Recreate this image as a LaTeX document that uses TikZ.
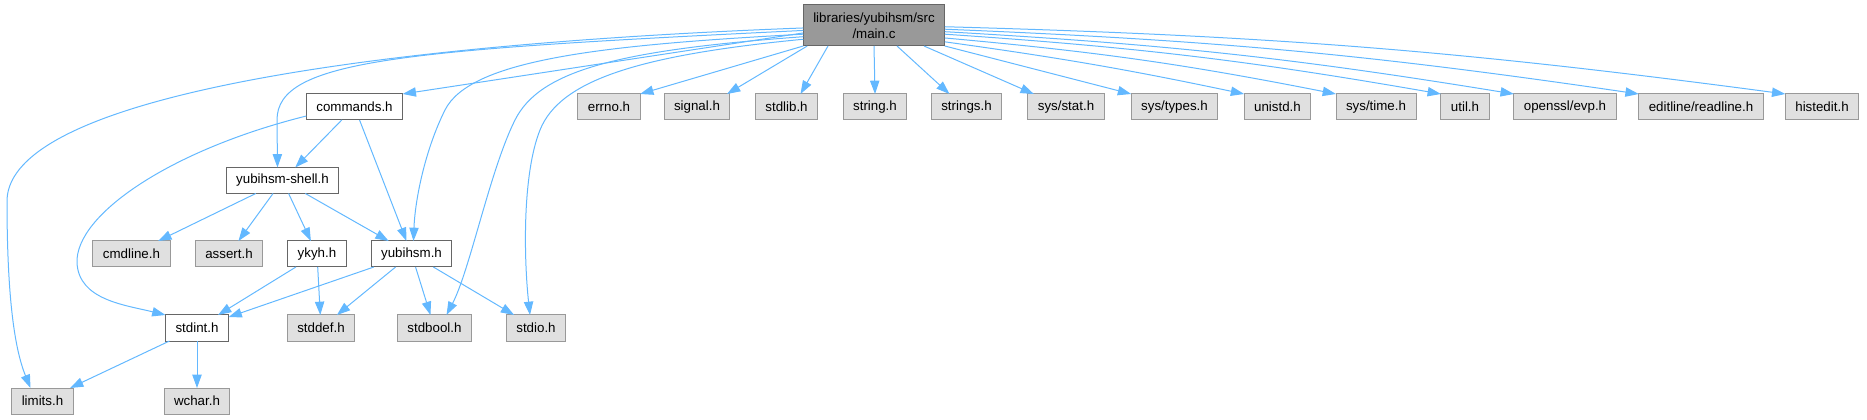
\documentclass[tikz,border=0pt]{standalone}
\usepackage{fontspec}
\setmainfont{Liberation Sans}
\usepackage{tikz}
\usetikzlibrary{calc,arrows.meta}

\definecolor{edgeblue}{HTML}{63B8FF}
\definecolor{sysfill}{HTML}{E0E0E0}
\definecolor{sysline}{HTML}{999999}
\definecolor{hdrline}{HTML}{666666}
\definecolor{mainfill}{HTML}{999999}

\begin{document}
\begin{tikzpicture}[
  x=0.75pt, y=-0.75pt,
  file/.style={draw=hdrline, fill=white, line width=0.75pt, minimum height=19.5pt,
    inner xsep=7.5pt, inner ysep=0pt, outer sep=0pt},
  sysfile/.style={file, draw=sysline, fill=sysfill},
  mainfile/.style={file, fill=mainfill, minimum height=30.75pt, align=center},
  dep/.style={draw=edgeblue, line width=0.75pt, -{Triangle[length=10pt,width=7pt]}}
]
  \useasboundingbox (0,0) rectangle (1867,420);

  % Files
  \node[mainfile] (main) at (874,25.5) {libraries/yubihsm/src\\/main.c};

  \node[file]    (commands) at (354.5,107) {commands.h};
  \node[sysfile] (errno)    at (609,107)   {errno.h};
  \node[sysfile] (signal)   at (697,107)   {signal.h};
  \node[sysfile] (stdlib)   at (786.5,107) {stdlib.h};
  \node[sysfile] (string)   at (875,107)   {string.h};
  \node[sysfile] (strings)  at (966.5,107) {strings.h};
  \node[sysfile] (sysstat)  at (1066,107)  {sys/stat.h};
  \node[sysfile] (systypes) at (1174.5,107) {sys/types.h};
  \node[sysfile] (unistd)   at (1277.5,107) {unistd.h};
  \node[sysfile] (systime)  at (1376,107)  {sys/time.h};
  \node[sysfile] (util)     at (1465,107)  {util.h};
  \node[sysfile] (evp)      at (1565,107)  {openssl/evp.h};
  \node[sysfile] (readline) at (1701,107)  {editline/readline.h};
  \node[sysfile] (histedit) at (1822,107)  {histedit.h};

  \node[file]    (shell)    at (282.5,180.5) {yubihsm-shell.h};

  \node[sysfile] (cmdline)  at (131.5,254) {cmdline.h};
  \node[sysfile] (assert)   at (229,254)   {assert.h};
  \node[file]    (ykyh)     at (317,254)   {ykyh.h};
  \node[file]    (yubihsm)  at (411.5,254) {yubihsm.h};

  \node[file]    (stdint)   at (197,328)   {stdint.h};
  \node[sysfile] (stddef)   at (321,328)   {stddef.h};
  \node[sysfile] (stdbool)  at (434.5,328) {stdbool.h};
  \node[sysfile] (stdio)    at (536,328)   {stdio.h};

  \node[sysfile] (limits)   at (42.5,401)  {limits.h};
  \node[sysfile] (wchar)    at (197,401)   {wchar.h};

  % Includes of main.c, to the left
  \draw[dep] (main.182) .. controls (350,45) and (10,100) .. (7,200)
    .. controls (7,300) and (15,350) .. ($(limits.north)+(-12,0)$);
  \draw[dep] (main.184) .. controls (400,50) and (277,60) .. (277,120)
    -- ($(shell.north)+(-5,0)$);
  \draw[dep] (main.186) -- (commands.north east);
  \draw[dep] (main.187) .. controls (600,45) and (470,60) .. (445,110)
    .. controls (425,150) and (415,200) .. ($(yubihsm.north)+(2,0)$);
  \draw[dep] (main.189) .. controls (620,50) and (540,70) .. (515,120)
    .. controls (490,170) and (470,270) .. ($(stdbool.north)+(12,0)$);
  \draw[dep] (main.191) .. controls (640,55) and (560,80) .. (540,130)
    .. controls (522,175) and (524,260) .. ($(stdio.north)+(-6,0)$);

  % Includes of main.c, system headers
  \draw[dep] (main.south west) -- (errno.north east);
  \draw[dep] ($(main.south west)+(4,0)$) -- ($(signal.north east)+(-3,0)$);
  \draw[dep] ($(main.south)+(-46,0)$) -- ($(stdlib.north)+(14,0)$);
  \draw[dep] (main.south) -- (string.north);
  \draw[dep] ($(main.south)+(23,0)$) -- ($(strings.north)+(-17,0)$);
  \draw[dep] ($(main.south)+(50,0)$) -- ($(sysstat.north west)+(6,0)$);
  \draw[dep] (main.south east) -- (systypes.north west);
  \draw[dep] (main.347) to[bend left=2] (unistd.north west);
  \draw[dep] (main.350) to[bend left=3] (systime.north west);
  \draw[dep] (main.353) to[bend left=3] (util.north west);
  \draw[dep] (main.355) to[bend left=3] (evp.north west);
  \draw[dep] (main.357) to[bend left=3] (readline.north west);
  \draw[dep] (main.359) to[bend left=3] (histedit.north west);

  % commands.h
  \draw[dep] (commands) -- (shell);
  \draw[dep] (commands) -- (yubihsm);
  \draw[dep] ($(commands.west)+(0,9)$) .. controls (170,150) and (75,215) .. (77,263)
    .. controls (79,300) and (125,305) .. (stdint.north west);

  % yubihsm-shell.h
  \draw[dep] (shell) -- (cmdline);
  \draw[dep] (shell) -- (assert);
  \draw[dep] (shell) -- (ykyh);
  \draw[dep] (shell) -- (yubihsm);

  % ykyh.h and yubihsm.h
  \draw[dep] (ykyh) -- (stdint);
  \draw[dep] (ykyh) -- (stddef);
  \draw[dep] (yubihsm) -- (stdint);
  \draw[dep] (yubihsm) -- (stddef);
  \draw[dep] (yubihsm) -- (stdbool);
  \draw[dep] (yubihsm) -- (stdio);

  % stdint.h
  \draw[dep] (stdint) -- (limits);
  \draw[dep] (stdint) -- (wchar);

\end{tikzpicture}
\end{document}
